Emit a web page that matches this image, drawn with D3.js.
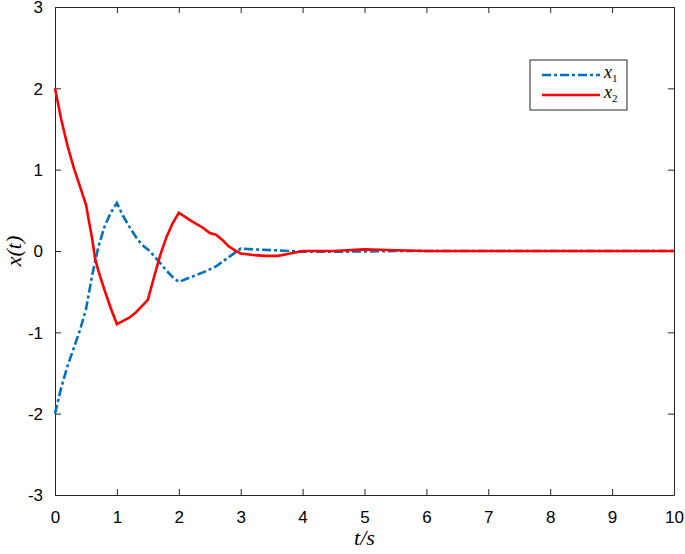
<!DOCTYPE html>
<html>
<head>
<meta charset="utf-8">
<script src="https://cdn.jsdelivr.net/npm/d3@7"></script>
<style>
  body { margin: 0; background: #fff; }
  svg { display: block; }
</style>
</head>
<body>
<svg id="chart" width="685" height="554"></svg>
<script>
// time samples and the two state trajectories
const t1 = [0, 0.1, 0.2, 0.3, 0.4, 0.5, 0.6, 0.7, 0.8, 0.9, 1.0, 1.1, 1.2, 1.3, 1.4, 1.5, 1.6, 1.7, 1.8, 1.9, 2.0, 2.2, 2.4, 2.6, 2.8, 3.0, 3.2, 3.5, 3.8, 4.0, 4.5, 5.0, 5.5, 6, 7, 8, 9, 10];
const x1 = [-2, -1.68, -1.42, -1.2, -0.98, -0.72, -0.3, 0.05, 0.3, 0.47, 0.59, 0.43, 0.3, 0.18, 0.08, 0.02, -0.06, -0.15, -0.24, -0.32, -0.38, -0.32, -0.26, -0.19, -0.08, 0.03, 0.02, 0.01, 0.0, -0.01, -0.01, -0.005, 0, 0, 0, 0, 0, 0];

const t2 = [0, 0.1, 0.2, 0.3, 0.4, 0.5, 0.6, 0.65, 0.7, 0.8, 0.9, 1.0, 1.1, 1.2, 1.3, 1.4, 1.5, 1.6, 1.7, 1.8, 1.9, 2.0, 2.2, 2.4, 2.5, 2.6, 2.7, 2.8, 2.9, 3.0, 3.2, 3.4, 3.6, 3.8, 4.0, 4.5, 5.0, 5.5, 6, 7, 8, 9, 10];
const x2 = [2, 1.62, 1.3, 1.03, 0.8, 0.57, 0.15, -0.1, -0.24, -0.48, -0.7, -0.9, -0.86, -0.82, -0.76, -0.68, -0.6, -0.32, -0.05, 0.17, 0.34, 0.47, 0.37, 0.28, 0.22, 0.2, 0.14, 0.06, 0.01, -0.03, -0.05, -0.06, -0.06, -0.03, 0.0, 0.0, 0.02, 0.01, 0, 0, 0, 0, 0];

const xTicks = [0, 1, 2, 3, 4, 5, 6, 7, 8, 9, 10];
const yTicks = [-3, -2, -1, 0, 1, 2, 3];

const margin = { left: 55, right: 11, top: 7, bottom: 59 };
const width = 685, height = 554;
const sansFont = "'Liberation Sans', Arial, Helvetica, sans-serif";
const mathFont = "'Liberation Serif', 'Times New Roman', serif";

const svg = d3.select("#chart");

const x = d3.scaleLinear().domain([0, 10]).range([margin.left, width - margin.right]);
const y = d3.scaleLinear().domain([-3, 3]).range([height - margin.bottom, margin.top]);

const axisColor = "#262626";
const fmt = d => String(d); // plain hyphen minus like MATLAB

// bottom axis
const gx = svg.append("g")
    .attr("transform", `translate(0,${y(-3)})`)
    .call(d3.axisBottom(x).tickValues(xTicks).tickSizeInner(-6).tickSizeOuter(0).tickPadding(15).tickFormat(fmt));
// top ticks
const gxt = svg.append("g")
    .attr("transform", `translate(0,${y(3)})`)
    .call(d3.axisTop(x).tickValues(xTicks).tickSizeInner(-6).tickSizeOuter(0).tickFormat(""));
// left axis
const gy = svg.append("g")
    .attr("transform", `translate(${x(0)},0)`)
    .call(d3.axisLeft(y).tickValues(yTicks).tickSizeInner(-6).tickSizeOuter(0).tickPadding(12).tickFormat(fmt));
// right ticks
const gyr = svg.append("g")
    .attr("transform", `translate(${x(10)},0)`)
    .call(d3.axisRight(y).tickValues(yTicks).tickSizeInner(-6).tickSizeOuter(0).tickFormat(""));

[gx, gxt, gy, gyr].forEach(g => {
  g.selectAll("path.domain").attr("stroke", axisColor).attr("stroke-width", 1);
  g.selectAll(".tick line").attr("stroke", axisColor).attr("stroke-width", 1);
  g.selectAll(".tick text")
      .style("font-family", sansFont)
      .style("font-size", "17px")
      .attr("fill", "#000");
});
gx.selectAll(".tick text").attr("dy", "0.75em");
gy.selectAll(".tick text").attr("dy", "0.35em");

const line = d3.line().x(d => x(d[0])).y(d => y(d[1]));

svg.append("path")
    .datum(t1.map((t, i) => [t, x1[i]]))
    .attr("d", line)
    .attr("fill", "none")
    .attr("stroke", "#0072BD")
    .attr("stroke-width", 2.6)
    .attr("stroke-dasharray", "9,3,3,3");

svg.append("path")
    .datum(t2.map((t, i) => [t, x2[i]]))
    .attr("d", line)
    .attr("fill", "none")
    .attr("stroke", "#FF0000")
    .attr("stroke-width", 2.6);

// axis labels
svg.append("text")
    .attr("x", (x(0) + x(10)) / 2)
    .attr("y", 545)
    .attr("text-anchor", "middle")
    .style("font-family", mathFont)
    .style("font-style", "italic")
    .style("font-size", "22px")
    .text("t/s");

svg.append("text")
    .attr("transform", `translate(21,${y(0)}) rotate(-90)`)
    .attr("text-anchor", "middle")
    .style("font-family", mathFont)
    .style("font-style", "italic")
    .style("font-size", "22px")
    .text("x(t)");

// legend
const legend = svg.append("g").attr("transform", "translate(530,60)");
legend.append("rect")
    .attr("width", 97).attr("height", 50)
    .attr("fill", "#fff")
    .attr("stroke", axisColor).attr("stroke-width", 1);

const legendItems = [
  { name: "x", sub: "1", color: "#0072BD", dash: "9,3,3,3" },
  { name: "x", sub: "2", color: "#FF0000", dash: null }
];
legendItems.forEach((d, i) => {
  const cy = 15 + i * 20;
  legend.append("line")
      .attr("x1", 12).attr("x2", 70)
      .attr("y1", cy).attr("y2", cy)
      .attr("stroke", d.color)
      .attr("stroke-width", 2.6)
      .attr("stroke-dasharray", d.dash);
  const txt = legend.append("text")
      .attr("x", 74).attr("y", cy + 3)
      .style("font-family", mathFont)
      .style("font-size", "18px");
  txt.append("tspan").style("font-style", "italic").text(d.name);
  txt.append("tspan")
      .attr("dy", 4).style("font-size", "11px")
      .text(d.sub);
});
</script>
</body>
</html>
